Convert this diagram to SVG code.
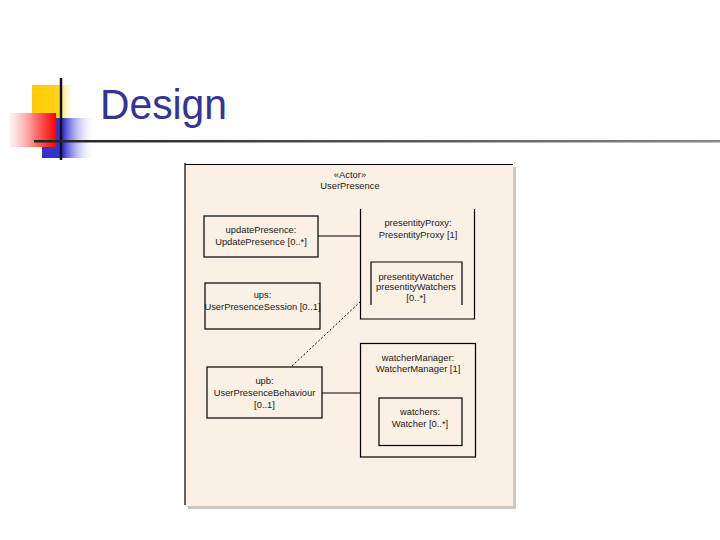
<svg xmlns="http://www.w3.org/2000/svg" width="720" height="540" viewBox="0 0 720 540">
<defs>
<linearGradient id="gy" x1="0" y1="0" x2="1" y2="0"><stop offset="0" stop-color="#FFCC00"/><stop offset="0.6" stop-color="#FFD21A"/><stop offset="1" stop-color="#FFFFFF" stop-opacity="0"/></linearGradient>
<linearGradient id="gb" x1="0" y1="0" x2="1" y2="0"><stop offset="0" stop-color="#3333CC"/><stop offset="0.4" stop-color="#3333CC"/><stop offset="1" stop-color="#FFFFFF" stop-opacity="0"/></linearGradient>
<linearGradient id="gr" x1="0" y1="0" x2="1" y2="0"><stop offset="0" stop-color="#FFE8E8" stop-opacity="0.6"/><stop offset="0.6" stop-color="#FF6666"/><stop offset="1" stop-color="#FF0000"/></linearGradient>
<linearGradient id="gl" x1="0" y1="0" x2="1" y2="0"><stop offset="0" stop-color="#222222"/><stop offset="1" stop-color="#888888"/></linearGradient>
<style>
.t{font-family:"Liberation Sans",Arial,sans-serif;font-size:9.4px;fill:#1a1a1a;text-anchor:middle}
.b{fill:none;stroke:#000;stroke-width:1.2}
.c{stroke:#000;stroke-width:1;fill:none}
</style>
</defs>
<g id="title">
<rect x="32" y="85" width="43" height="35" fill="url(#gy)"/>
<rect x="42" y="118" width="53" height="40" fill="url(#gb)"/>
<rect x="10" y="113" width="46" height="34" fill="url(#gr)"/>
<line x1="61" y1="78" x2="61" y2="160" stroke="#111" stroke-width="2.5"/>
<rect x="34" y="140" width="686" height="2.5" fill="url(#gl)"/>
<text x="100" y="119" font-family="'Liberation Sans',Arial,sans-serif" font-size="43" fill="#333399" textLength="127" lengthAdjust="spacingAndGlyphs">Design</text>
</g>
<g id="frame">
<rect x="188" y="167" width="328" height="342" fill="#C8C8C8"/>
<rect x="185" y="164" width="328" height="342" fill="#FAF0E4"/>
<line x1="185" y1="163" x2="185" y2="505" stroke="#000" stroke-width="1.2"/>
<line x1="185" y1="164.5" x2="513" y2="164.5" stroke="#000" stroke-width="1.2"/>
<text class="t" x="350" y="178">«Actor»</text>
<text class="t" x="350" y="189">UserPresence</text>
</g>
<g id="connectors">
<line class="c" x1="318" y1="236" x2="360" y2="236"/>
<line class="c" x1="322" y1="393" x2="360" y2="393"/>
<line class="c" x1="292" y1="366" x2="360" y2="302" stroke-dasharray="2,2"/>
</g>
<g id="updatePresence">
<rect class="b" x="204" y="216" width="114" height="41"/>
<text class="t" x="261" y="233">updatePresence:</text>
<text class="t" x="261" y="245">UpdatePresence [0..*]</text>
</g>
<g id="ups">
<rect class="b" x="205" y="283" width="115" height="46"/>
<text class="t" x="262.5" y="298">ups:</text>
<text class="t" x="262.5" y="310">UserPresenceSession [0..1]</text>
</g>
<g id="upb">
<rect class="b" x="207" y="367" width="115" height="51"/>
<text class="t" x="264.5" y="384">upb:</text>
<text class="t" x="264.5" y="396">UserPresenceBehaviour</text>
<text class="t" x="264.5" y="408">[0..1]</text>
</g>
<g id="presentityProxy">
<path class="b" d="M360.5,209 V319 H474.5 V209"/>
<text class="t" x="418" y="226">presentityProxy:</text>
<text class="t" x="418" y="238">PresentityProxy [1]</text>
</g>
<g id="presentityWatcher">
<path class="b" d="M371,305 V262 H462 V305"/>
<text class="t" x="416" y="280">presentityWatcher</text>
<text class="t" x="416" y="290">presentityWatchers</text>
<text class="t" x="416" y="301">[0..*]</text>
</g>
<g id="watcherManager">
<rect class="b" x="360.5" y="343.5" width="115" height="113.5"/>
<text class="t" x="418" y="361">watcherManager:</text>
<text class="t" x="418" y="372">WatcherManager [1]</text>
</g>
<g id="watchers">
<rect class="b" x="379" y="398" width="83" height="47.5"/>
<text class="t" x="420" y="415">watchers:</text>
<text class="t" x="420" y="427">Watcher [0..*]</text>
</g>
</svg>
